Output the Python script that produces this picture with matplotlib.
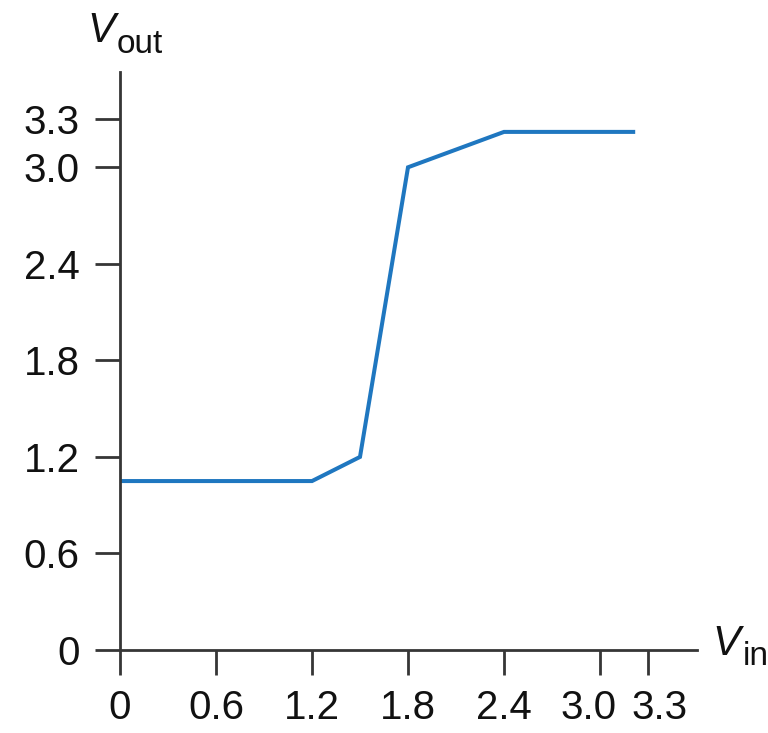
import matplotlib
matplotlib.use("Agg")
import matplotlib.pyplot as plt
from matplotlib.transforms import ScaledTranslation

# Transfer characteristic: input voltage vs output voltage
v_in = [0.0, 1.2, 1.5, 1.8, 2.4, 3.22]
v_out = [1.05, 1.05, 1.2, 3.0, 3.22, 3.22]

x_ticks = [0, 0.6, 1.2, 1.8, 2.4, 3.0, 3.3]
x_tick_labels = ["0", "0.6", "1.2", "1.8", "2.4", "3.0", "3.3"]
y_ticks = [0, 0.6, 1.2, 1.8, 2.4, 3.0, 3.3]
y_tick_labels = ["0", "0.6", "1.2", "1.8", "2.4", "3.0", "3.3"]

W, H = 768, 733
fig = plt.figure(figsize=(W / 100, H / 100), dpi=100)
plt.rcParams["font.family"] = ["Liberation Sans", "DejaVu Sans"]

left, right, top, bottom = 120, 697, 72, 650
ax = fig.add_axes([left / W, (H - bottom) / H, (right - left) / W, (bottom - top) / H])

axis_color = "#363636"
text_color = "#111111"
ax.plot(v_in, v_out, color="#1f77c0", lw=2.9, solid_joinstyle="miter",
        solid_capstyle="butt")

ax.set_xlim(0, (right - left) / 160.0)
ax.set_ylim(0, (bottom - top) / 160.9)

for s in ["top", "right"]:
    ax.spines[s].set_visible(False)
for s in ["left", "bottom"]:
    ax.spines[s].set_color(axis_color)
    ax.spines[s].set_linewidth(2.0)

ax.set_xticks(x_ticks)
ax.set_xticklabels(x_tick_labels)
ax.set_yticks(y_ticks)
ax.set_yticklabels(y_tick_labels)
ax.tick_params(axis="both", direction="out", length=18, width=2.0,
               color=axis_color, labelsize=29, labelcolor=text_color)
ax.tick_params(axis="x", pad=10)
ax.tick_params(axis="y", pad=11)

# The two rightmost x labels sit close together; nudge them apart
xlabels = ax.get_xticklabels()
xlabels[5].set_transform(xlabels[5].get_transform()
                         + ScaledTranslation(-0.11, 0, fig.dpi_scale_trans))
xlabels[6].set_transform(xlabels[6].get_transform()
                         + ScaledTranslation(0.12, 0, fig.dpi_scale_trans))

# Axis titles: italic V with an upright subscript
fig.text(87 / W, (H - 42) / H, "V", fontsize=30, style="italic",
         va="baseline", ha="left", color=text_color)
fig.text(117 / W, (H - 53) / H, "out", fontsize=24,
         va="baseline", ha="left", color=text_color)
fig.text(712 / W, (H - 655) / H, "V", fontsize=30, style="italic",
         va="baseline", ha="left", color=text_color)
fig.text(743 / W, (H - 665) / H, "in", fontsize=24,
         va="baseline", ha="left", color=text_color)

fig.savefig("out.png", dpi=100)
